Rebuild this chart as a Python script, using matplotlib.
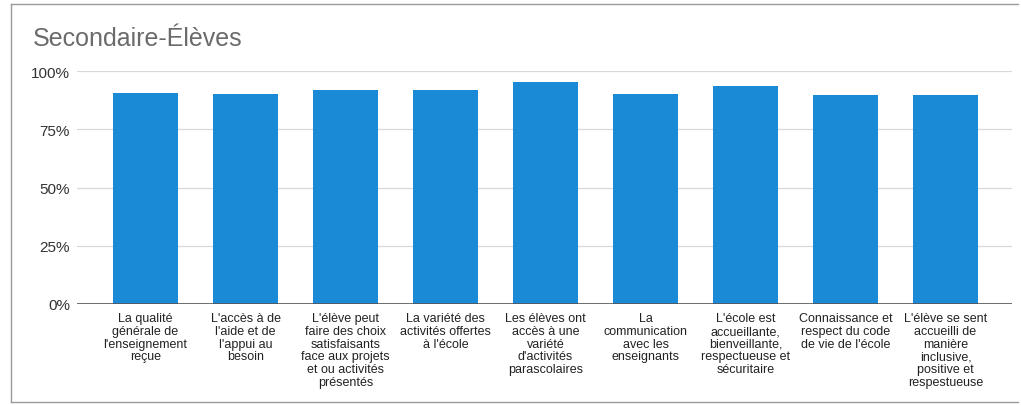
import matplotlib as mpl
import matplotlib.pyplot as plt
import numpy as np

mpl.rc('font', family=['Liberation Sans', 'DejaVu Sans'])

categories = [
    "La qualité\ngénérale de\nl'enseignement\nreçue",
    "L'accès à de\nl'aide et de\nl'appui au\nbesoin",
    "L'élève peut\nfaire des choix\nsatisfaisants\nface aux projets\net ou activités\nprésentés",
    "La variété des\nactivités offertes\nà l'école",
    "Les élèves ont\naccès à une\nvariété\nd'activités\nparascolaires",
    "La\ncommunication\navec les\nenseignants",
    "L'école est\naccueillante,\nbienveillante,\nrespectueuse et\nsécuritaire",
    "Connaissance et\nrespect du code\nde vie de l'école",
    "L'élève se sent\naccueilli de\nmanière\ninclusive,\npositive et\nrespestueuse",
]
values = [90.4, 90.3, 92.0, 92.0, 95.1, 90.1, 93.7, 89.8, 89.7]
yticks = [0, 25, 50, 75, 100]

W, H = 1021, 406
fig = plt.figure(figsize=(W/100, H/100), dpi=100)

# plot area in pixel coords
x0, x1, y0, y1 = 77, 1012, 305, 72
ax = fig.add_axes([x0/W, 1 - y0/H, (x1-x0)/W, (y0-y1)/H])

x = np.arange(len(categories))
ax.bar(x, values, width=0.65, color='#1a8ad6', zorder=3)

ax.set_xlim(-0.685, 8.665)
ax.set_ylim(0, 100)
ax.set_yticks(yticks)
ax.set_yticklabels([f'{v}%' for v in yticks], fontsize=11, color='#333333')
ax.set_xticks(x)
ax.set_xticklabels(categories, fontsize=9, linespacing=1.08, color='#222222', va='top')
ax.tick_params(axis='both', length=0)
ax.tick_params(axis='x', pad=6)
ax.tick_params(axis='y', pad=5)

for v in yticks[1:]:
    ax.axhline(v, color='#d8d8d8', lw=0.9, zorder=1)
ax.axhline(0, color='#555555', lw=1.2, zorder=4)

for s in ax.spines.values():
    s.set_visible(False)

fig.text(33/W, 1 - 39/H, 'Secondaire-Élèves', fontsize=18, color='#6b6b6b',
         ha='left', va='center')

# outer frame of the chart card
frame = dict(color='#9a9a9a', lw=1.0, transform=None)
fig.add_artist(mpl.lines.Line2D([11, 1018], [H-5, H-5], **frame))
fig.add_artist(mpl.lines.Line2D([11, 11], [H-5, H-403], **frame))
fig.add_artist(mpl.lines.Line2D([11, 1018], [H-403, H-403], **frame))

fig.savefig('out.png', dpi=100)
